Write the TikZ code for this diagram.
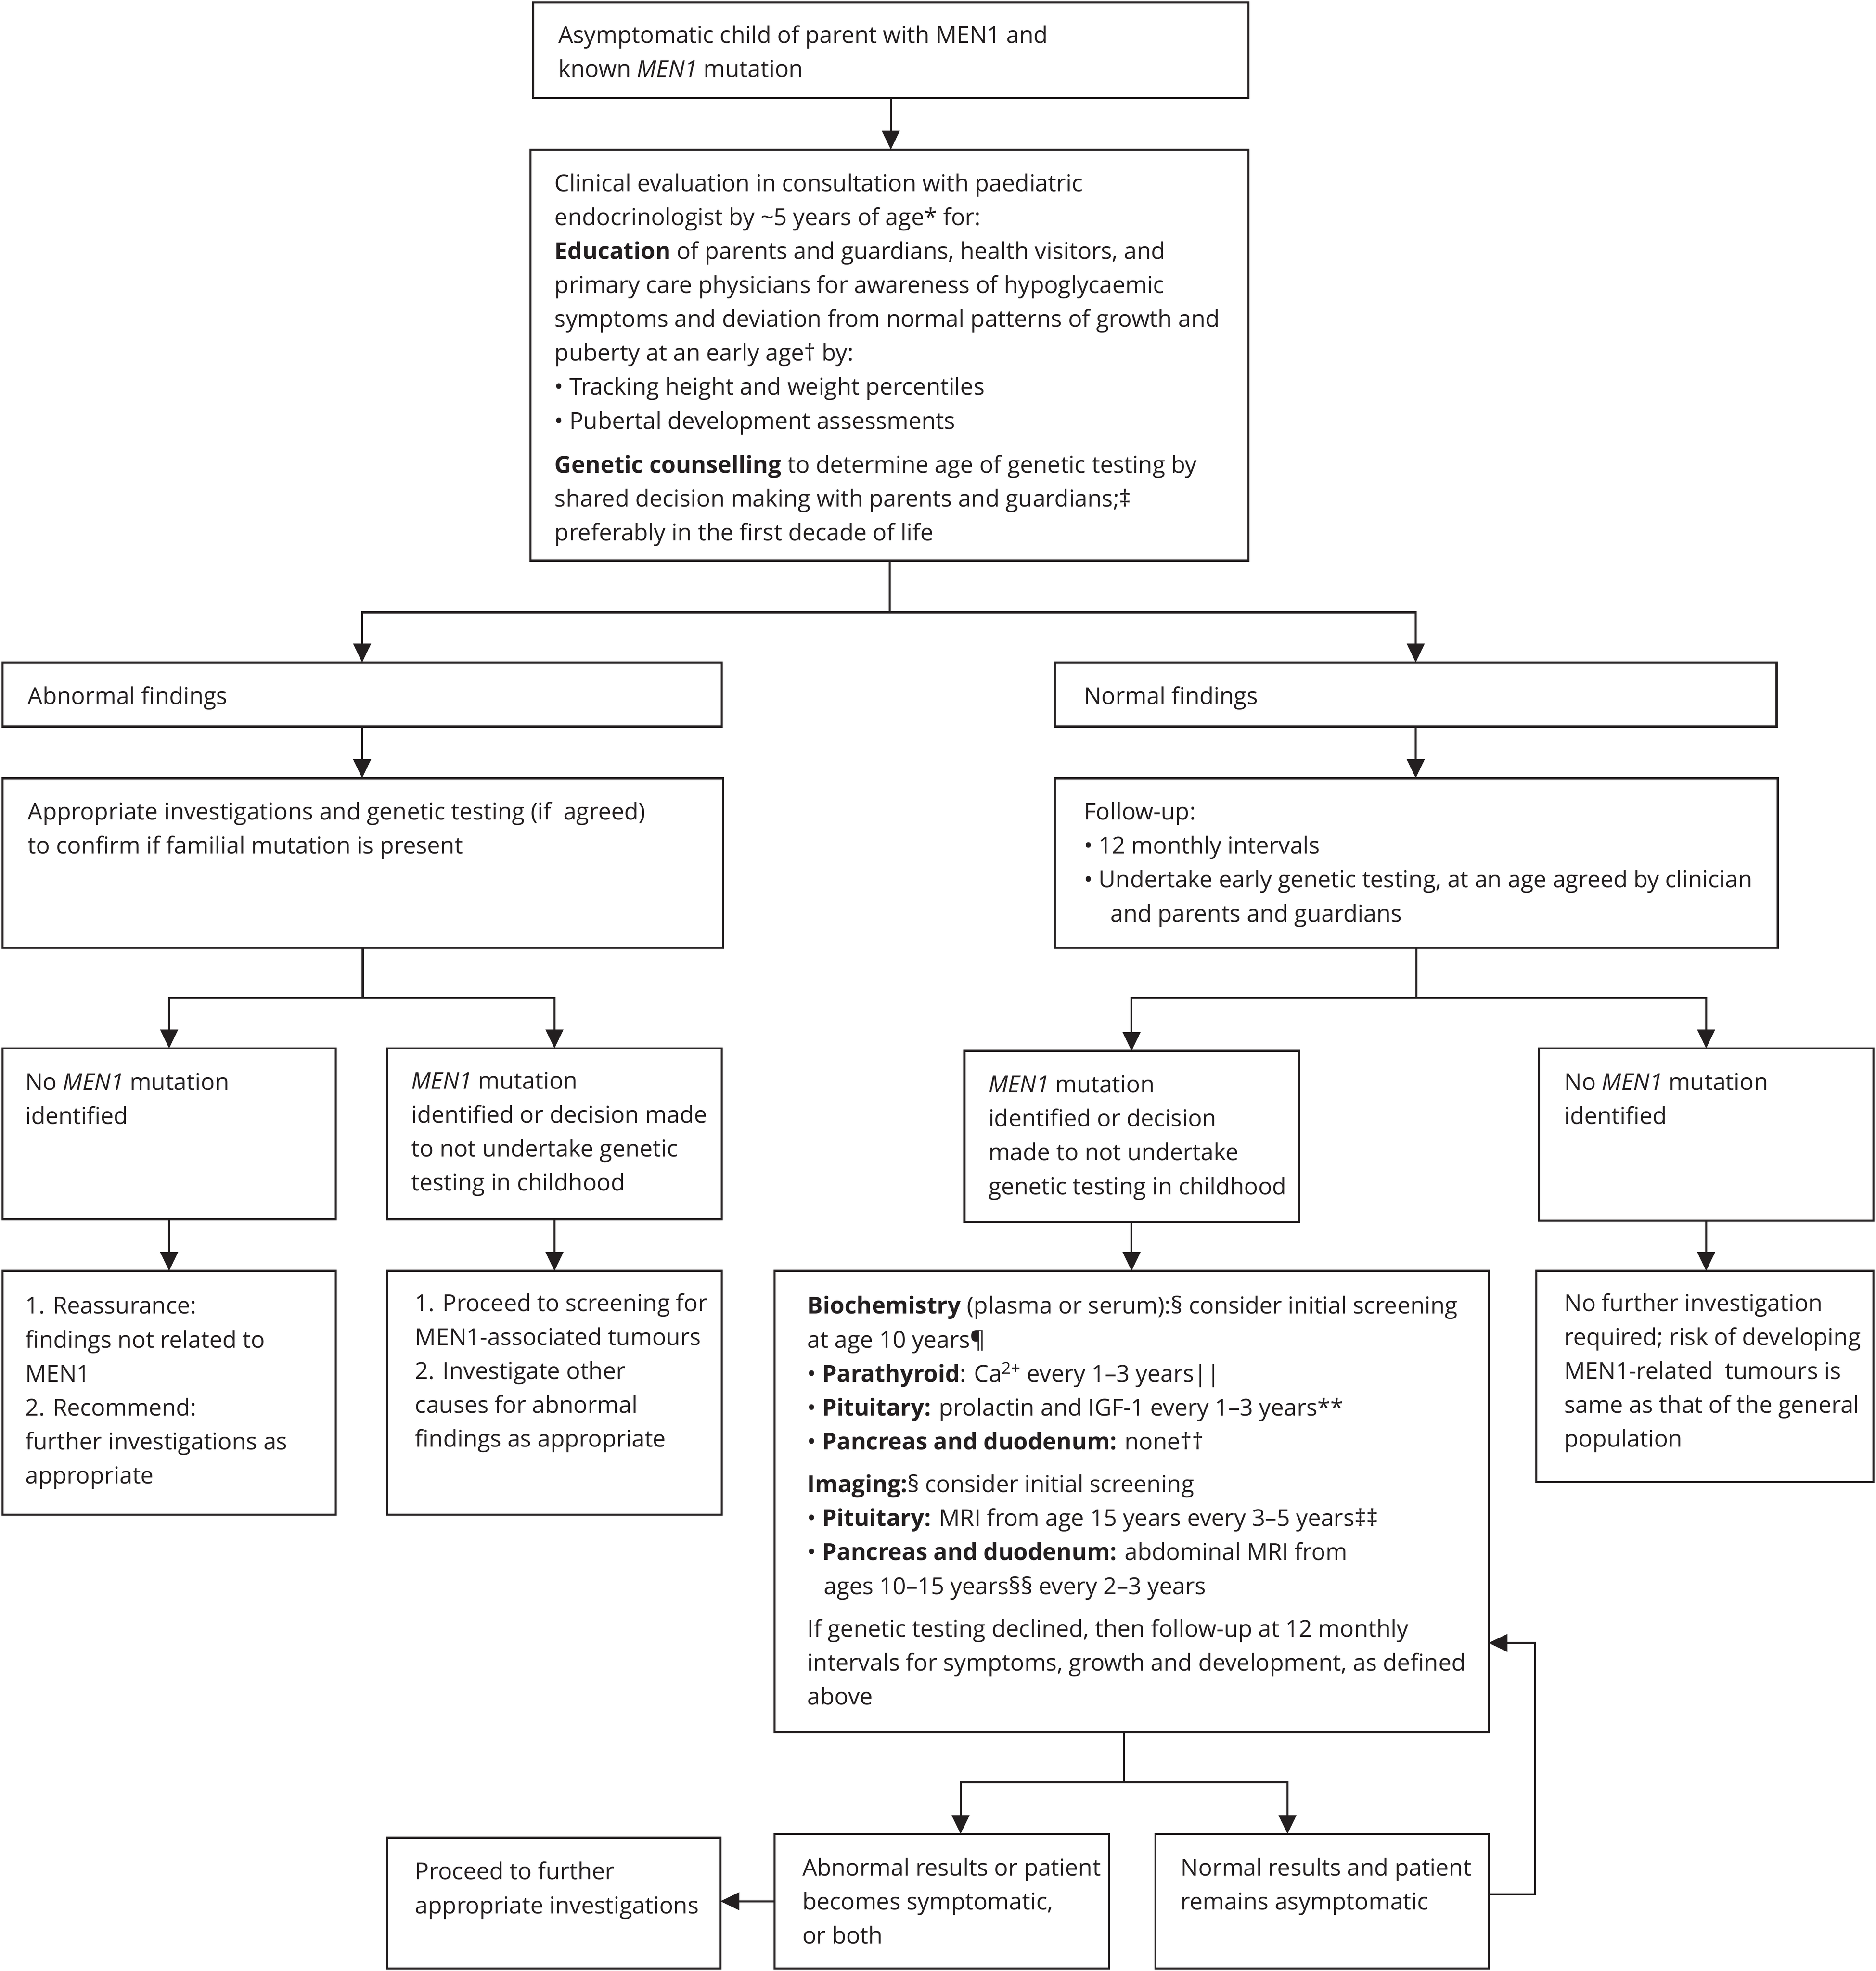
\documentclass[tikz,border=0pt]{standalone}
\usepackage{fontspec}
\setmainfont{Open Sans}
\usetikzlibrary{arrows.meta,calc}
\definecolor{ink}{HTML}{231F20}
\begin{document}
\begin{tikzpicture}[x=1pt,y=-1pt,
  box/.style={draw=ink, line width=1.7pt, inner sep=0pt, outer sep=0pt, anchor=north west},
  txt/.style={anchor=north west, inner sep=0pt, align=left, text=ink, font=\fontsize{18.5}{27}\selectfont},
  arr/.style={draw=ink, line width=1.6pt, -{Triangle[length=15pt,width=14pt]}}]
\newcommand{\fs}{\rule{0pt}{22pt}}
\useasboundingbox (0,0) rectangle (1492,1568);
\fill[white] (0,0) rectangle (1492,1568);
% boxes
\node[box, minimum width=569pt, minimum height=76pt] (top) at (424,2) {};
\node[box, minimum width=571pt, minimum height=327pt] (clin) at (422,119) {};
\node[box, minimum width=572pt, minimum height=51pt] (abn) at (2,527) {};
\node[box, minimum width=574pt, minimum height=51pt] (nor) at (839,527) {};
\node[box, minimum width=573pt, minimum height=135pt] (inv) at (2,619) {};
\node[box, minimum width=575pt, minimum height=135pt] (fol) at (839,619) {};
\node[box, minimum width=265pt, minimum height=136pt] (nol) at (2,834) {};
\node[box, minimum width=266pt, minimum height=136pt] (mutl) at (308,834) {};
\node[box, minimum width=266pt, minimum height=136pt] (mutr) at (767,836) {};
\node[box, minimum width=266pt, minimum height=137pt] (nonr) at (1224,834) {};
\node[box, minimum width=265pt, minimum height=194pt] (reas) at (2,1011) {};
\node[box, minimum width=266pt, minimum height=194pt] (scr) at (308,1011) {};
\node[box, minimum width=568pt, minimum height=367pt] (bio) at (616,1011) {};
\node[box, minimum width=268pt, minimum height=168pt] (nofu) at (1222,1011) {};
\node[box, minimum width=266pt, minimum height=107pt] (abr) at (616,1459) {};
\node[box, minimum width=265pt, minimum height=107pt] (nrr) at (919,1459) {};
\node[box, minimum width=265pt, minimum height=104pt] (pfi) at (308,1462) {};
% texts
\node[txt] (ttop) at (444,12) {\fs Asymptomatic child of parent with MEN1 and\\ known \textit{MEN1} mutation};
\node[txt] (tclin) at (441,130) {\fs Clinical evaluation in consultation with paediatric\\
endocrinologist by \textasciitilde5 years of age* for:\\
\textbf{Education} of parents and guardians, health visitors, and\\
primary care physicians for awareness of hypoglycaemic\\
symptoms and deviation from normal patterns of growth and\\
puberty at an early age† by:\\
• Tracking height and weight percentiles\\
• Pubertal development assessments\\[8pt]
\textbf{Genetic counselling} to determine age of genetic testing by\\
shared decision making with parents and guardians;‡\\
preferably in the first decade of life};
\node[txt] (tabn) at (22,538) {\fs Abnormal findings};
\node[txt] (tnor) at (862,538) {\fs Normal findings};
\node[txt] (tinv) at (22,630) {\fs Appropriate investigations and genetic testing (if\ \ agreed)\\ to confirm if familial mutation is present};
\node[txt] (tfol) at (862,630) {\fs Follow-up:\\ • 12 monthly intervals\\ • Undertake early genetic testing, at an age agreed by clinician\\ \hspace*{21pt}and parents and guardians};
\node[txt] (tnol) at (20,845) {\fs No \textit{MEN1} mutation\\ identified};
\node[txt] (tmutl) at (327,844) {\fs \textit{MEN1} mutation\\ identified or decision made\\ to not undertake genetic\\ testing in childhood};
\node[txt] (tmutr) at (786,847) {\fs \textit{MEN1} mutation\\ identified or decision\\ made to not undertake\\ genetic testing in childhood};
\node[txt] (tnonr) at (1244,845) {\fs No \textit{MEN1} mutation\\ identified};
\node[txt] (treas) at (20,1023) {\fs 1. Reassurance:\\ findings not related to\\ MEN1\\ 2. Recommend:\\ further investigations as\\ appropriate};
\node[txt] (tscr) at (330,1021) {\fs 1. Proceed to screening for\\ MEN1-associated tumours\\ 2. Investigate other\\ causes for abnormal\\ findings as appropriate};
\node[txt] (tbio) at (642,1023) {\fs \textbf{Biochemistry} (plasma or serum):§ consider initial screening\\
at age 10 years¶\\
• \textbf{Parathyroid}: Ca\textsuperscript{2+} every 1–3 years||\\
• \textbf{Pituitary:} prolactin and IGF-1 every 1–3 years**\\
• \textbf{Pancreas and duodenum:} none††\\[7pt]
\textbf{Imaging:}§ consider initial screening\\
• \textbf{Pituitary:} MRI from age 15 years every 3–5 years‡‡\\
• \textbf{Pancreas and duodenum:} abdominal MRI from\\
\hspace*{13pt}ages 10–15 years§§ every 2–3 years\\[7pt]
If genetic testing declined, then follow-up at 12 monthly\\
intervals for symptoms, growth and development, as defined\\
above};
\node[txt] (tnofu) at (1244,1021) {\fs No further investigation\\ required; risk of developing\\ MEN1-related\ \ tumours is\\ same as that of the general\\ population};
\node[txt] (tabr) at (638,1470) {\fs Abnormal results or patient\\ becomes symptomatic,\\ or both};
\node[txt] (tnrr) at (939,1470) {\fs Normal results and patient\\ remains asymptomatic};
\node[txt] (tpfi) at (330,1473) {\fs Proceed to further\\ appropriate investigations};
% connectors
\draw[arr] (top.south) -- (top.south |- clin.north);
\draw[arr] (clin.south) -- ++(0,41) -| (abn.north);
\draw[arr] (clin.south) -- ++(0,41) -| (nor.north);
\draw[arr] (abn.south) -- (abn.south |- inv.north);
\draw[arr] (nor.south) -- (nor.south |- fol.north);
\draw[arr] (inv.south) -- ++(0,40) -| (nol.north);
\draw[arr] (inv.south) -- ++(0,40) -| (mutl.north);
\draw[arr] (fol.south) -- ++(0,40) -| (mutr.north);
\draw[arr] (fol.south) -- ++(0,40) -| (nonr.north);
\draw[arr] (nol.south) -- (nol.south |- reas.north);
\draw[arr] (mutl.south) -- (mutl.south |- scr.north);
\draw[arr] (mutr.south) -- (mutr.south |- bio.north);
\draw[arr] (nonr.south) -- (nonr.south |- nofu.north);
\coordinate (bs) at ($(bio.south west)+(278,0)$);
\coordinate (ab) at ($(abr.north west)+(148,0)$);
\coordinate (nb) at ($(nrr.north west)+(105,0)$);
\draw[arr] (bs) -- ++(0,40) -| (ab);
\draw[arr] (bs) -- ++(0,40) -| (nb);
\draw[arr] (abr.west) -- (abr.west -| pfi.east);
\coordinate (loopin) at ($(bio.north east)+(0,296)$);
\draw[arr] ($(nrr.north east)+(0,48)$) -- ++(37,0) |- (loopin);
\end{tikzpicture}
\end{document}
